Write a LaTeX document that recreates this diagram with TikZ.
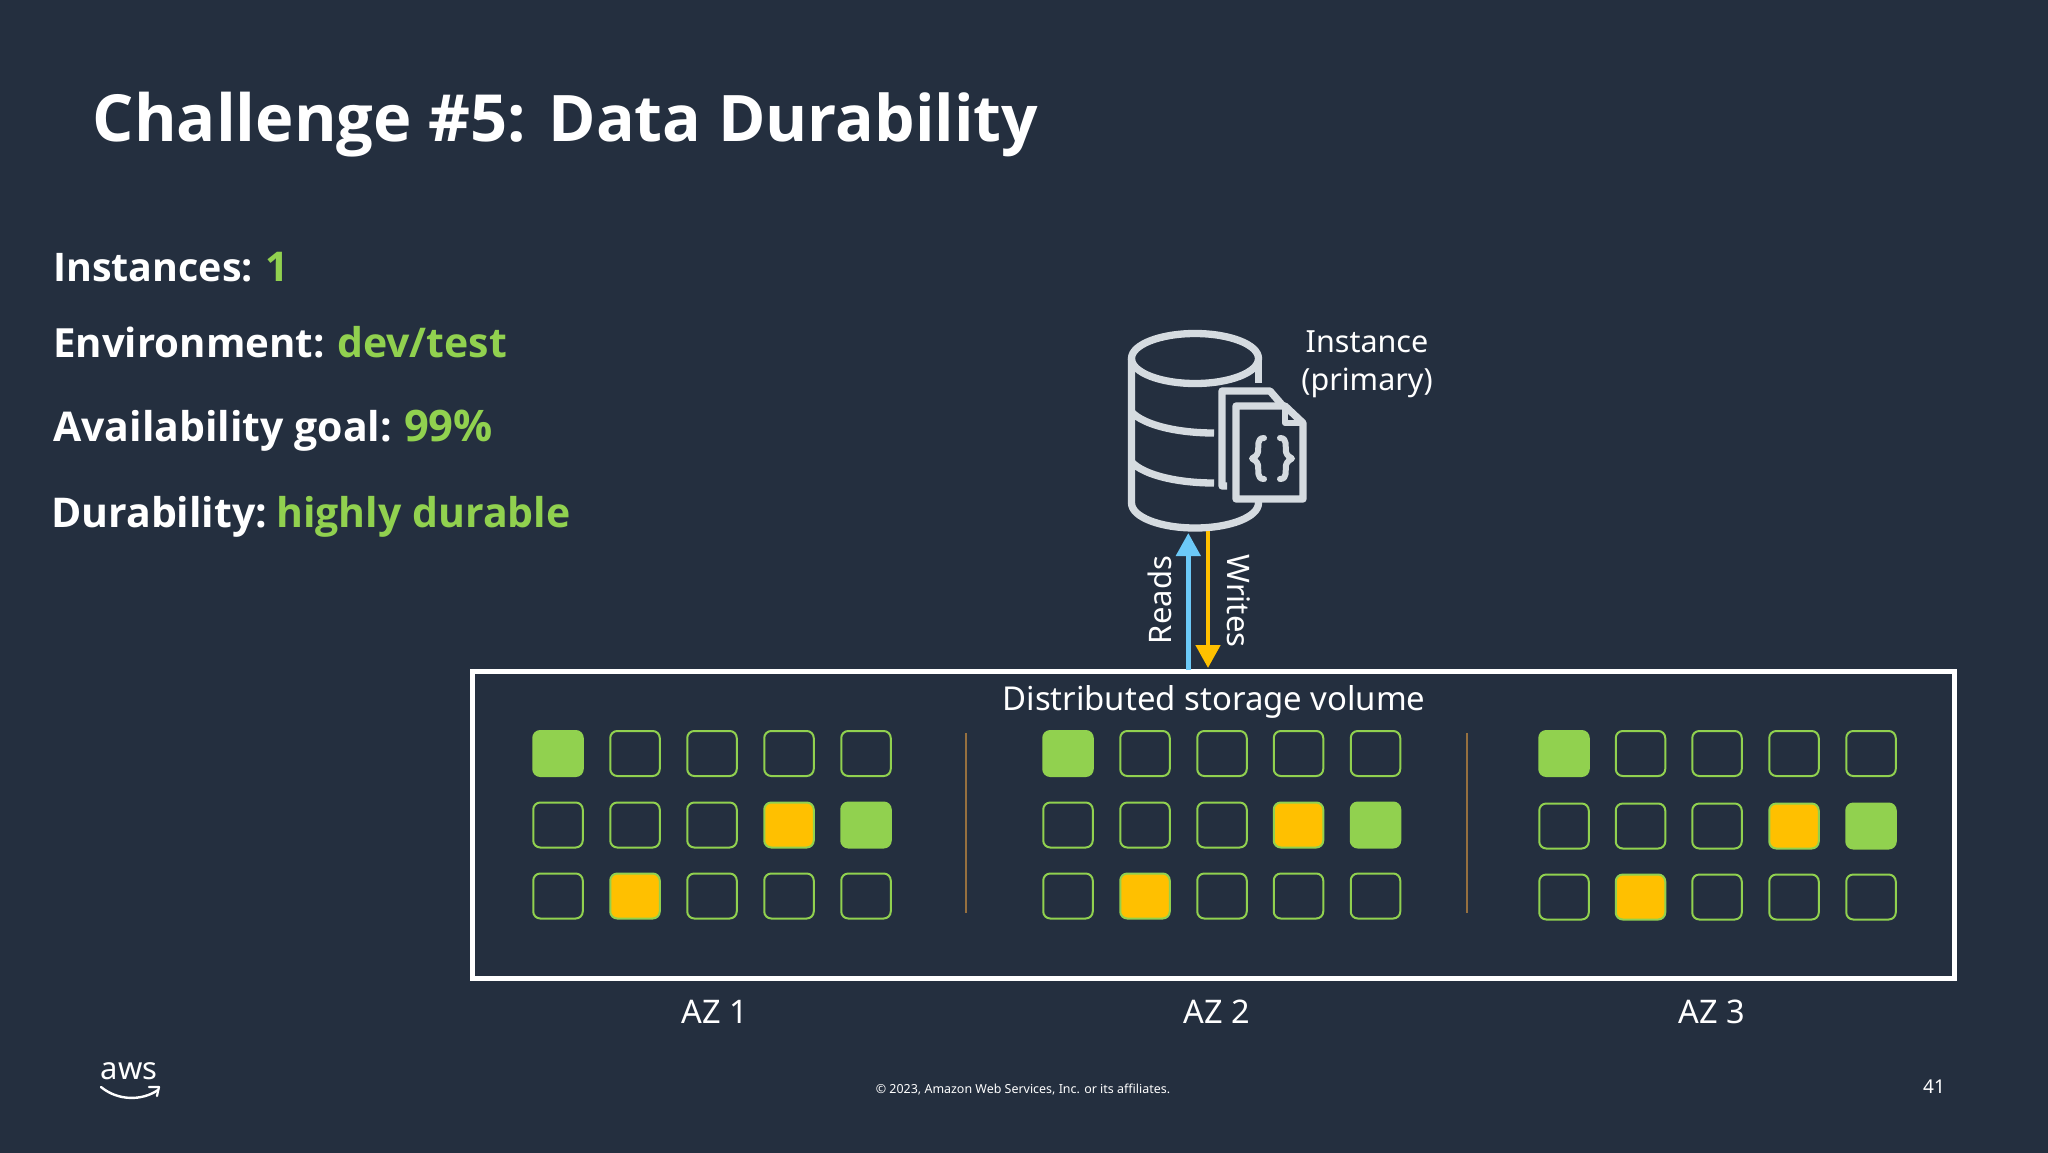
\documentclass[tikz,border=0pt]{standalone}
\usepackage{fontspec}
\setmainfont{Noto Sans}
\newfontfamily\hd{Open Sans}
\usetikzlibrary{arrows.meta}
\definecolor{bgc}{HTML}{242F3F}
\definecolor{grn}{HTML}{91D14F}
\definecolor{yel}{HTML}{FFC000}
\definecolor{blu}{HTML}{6CC9F7}
\definecolor{ico}{HTML}{D5DBE0}
\definecolor{divc}{HTML}{96703F}
\newcommand{\fs}[1]{\fontsize{#1}{#1}\selectfont}
\tikzset{
  cellbase/.style={minimum width=49.5pt,minimum height=45pt,inner sep=0pt,rounded corners=7pt,draw=grn,line width=2pt},
  ce/.style={cellbase},
  cg/.style={cellbase,fill=grn},
  cy/.style={cellbase,fill=yel},
  head/.style={anchor=base west,inner sep=0pt,text=white,font=\hd\bfseries\fs{41}},
  lab/.style={inner sep=0pt,text=white,font=\fs{31}},
  iconline/.style={draw=ico,line width=7.3pt,line cap=butt,line join=round},
  brace/.style={draw=ico,line width=6pt,line cap=round,line join=round},
  sep/.style={draw=divc,line width=2pt},
  flow/.style={line width=4.7pt}
}
\begin{document}
\begin{tikzpicture}[x=1pt,y=-1pt]
\useasboundingbox (0,0) rectangle (2048,1152);
\fill[bgc] (-3,-3) rectangle (2051,1155);
% title and facts
\node[head,font=\hd\bfseries\fs{65}] (title) at (92.5,141) {Challenge \#5:\hspace{22pt}{\fs{64.2}Data Durability}};
\node[head] (f1) at (53,281) {{\fs{39.4}Instances:}\hspace{13pt}\textcolor{grn}{1}};
\node[head] (f2) at (53,357) {{\fs{40.2}Environment:}\hspace{12.5pt}\textcolor{grn}{dev/test}};
\node[head] (f3) at (53,441) {Availability goal:\hspace{12pt}\textcolor{grn}{\fs{43.5}99\%}};
\node[head] (f4) at (51,527) {Durability:\hspace{9pt}\textcolor{grn}{highly durable}};
% database icon
\draw[iconline] (1195,358.5) ellipse [x radius=63.5,y radius=25];
\draw[iconline] (1131.5,358.5) -- (1131.5,503) .. controls (1131.5,517) and (1160,528) .. (1195,528) .. controls (1230,528) and (1258.5,517) .. (1258.5,503) -- (1258.5,499);
\draw[iconline] (1258.5,358.5) -- (1258.5,383);
\draw[iconline] (1131.5,412) .. controls (1145,426) and (1180,433) .. (1214,433);
\draw[iconline] (1131.5,462) .. controls (1145,476) and (1180,483) .. (1214,483);
\draw[iconline] (1227,486) -- (1222,486) -- (1222,391) -- (1270,391) -- (1283,406);
\draw[iconline] (1236,499) -- (1236,406) -- (1285,406) -- (1303,423) -- (1303,499) -- cycle;
\draw[iconline,line width=6pt] (1285,406) -- (1285,423) -- (1303,423);
\draw[brace] (1264,438) .. controls (1256,438) and (1259,447) .. (1258,452) .. controls (1257,456) and (1254,457) .. (1252,458.5) .. controls (1254,460) and (1257,461) .. (1258,465) .. controls (1259,470) and (1256,479) .. (1264,479);
\draw[brace] (1280,438) .. controls (1288,438) and (1285,447) .. (1286,452) .. controls (1287,456) and (1290,457) .. (1292,458.5) .. controls (1290,460) and (1287,461) .. (1286,465) .. controls (1285,470) and (1288,479) .. (1280,479);
\coordinate (dbR) at (1188.3,533);
\coordinate (dbW) at (1208,531);
\node[lab,anchor=base,font=\fs{30.5}] (inst1) at (1367,352) {Instance};
\node[lab,anchor=base,font=\fs{30.5}] (inst2) at (1367,390) {(primary)};
% storage box
\node[draw=white,line width=5pt,minimum width=1482pt,minimum height=307pt,inner sep=0pt,anchor=north west] (vol) at (469.5,668.5) {};
\coordinate (volR) at (1188.3,670);
\coordinate (volW) at (1208,668);
\draw[flow,draw=blu,-{Triangle[length=23pt,width=24pt,fill=blu]}] (volR) -- (dbR);
\draw[flow,draw=yel,-{Triangle[length=23pt,width=24pt,fill=yel]}] (dbW) -- (volW);
\node[lab,rotate=90] (reads) at (1160,600) {Reads};
\node[lab,rotate=-90] (writes) at (1239,601) {Writes};
\node[lab,anchor=base,font=\fs{32.9}] (dsv) at (1214,710) {Distributed storage volume};
% cells
\foreach \zn/\a/\b/\c/\d/\e/\dy in {1/558/635/712/789/866/0,2/1068/1145/1222/1298.5/1375.5/0,3/1564/1640.5/1717/1794/1871/1}{
  \node[cg] (z\zn a1) at (\a,753.5) {};
  \node[ce] (z\zn b1) at (\b,753.5) {};
  \node[ce] (z\zn c1) at (\c,753.5) {};
  \node[ce] (z\zn d1) at (\d,753.5) {};
  \node[ce] (z\zn e1) at (\e,753.5) {};
  \node[ce] (z\zn a2) at (\a,825+\dy) {};
  \node[ce] (z\zn b2) at (\b,825+\dy) {};
  \node[ce] (z\zn c2) at (\c,825+\dy) {};
  \node[cy] (z\zn d2) at (\d,825+\dy) {};
  \node[cg] (z\zn e2) at (\e,825+\dy) {};
  \node[ce] (z\zn a3) at (\a,896+\dy) {};
  \node[cy] (z\zn b3) at (\b,896+\dy) {};
  \node[ce] (z\zn c3) at (\c,896+\dy) {};
  \node[ce] (z\zn d3) at (\d,896+\dy) {};
  \node[ce] (z\zn e3) at (\e,896+\dy) {};
}
\draw[sep] (966,733) -- (966,913);
\draw[sep] (1467,733) -- (1467,913);
\node[lab,anchor=base,font=\fs{32.5}] (az1) at (715,1023) {AZ 1};
\node[lab,anchor=base,font=\fs{32.5}] (az2) at (1217,1023) {AZ 2};
\node[lab,anchor=base,font=\fs{32.5}] (az3) at (1712,1023) {AZ 3};
% footer
\node[anchor=base,inner sep=0pt,text=white,font=\fs{12.45}] (copy) at (1023,1093) {© 2023, Amazon Web Services, Inc. or its affiliates.};
\node[anchor=base,inner sep=0pt,text=white,font=\fs{19}] (page) at (1934,1093) {41};
\node[anchor=base,inner sep=0pt,text=white,font=\fs{31}] (aws) at (129,1079) {aws};
\draw[white,line width=2.4pt,line cap=round] (101,1087) .. controls (118,1101) and (142,1101) .. (158,1090);
\draw[white,line width=2.2pt,line cap=round,line join=round] (149,1087) -- (159,1087) -- (157,1096);
\end{tikzpicture}
\end{document}
